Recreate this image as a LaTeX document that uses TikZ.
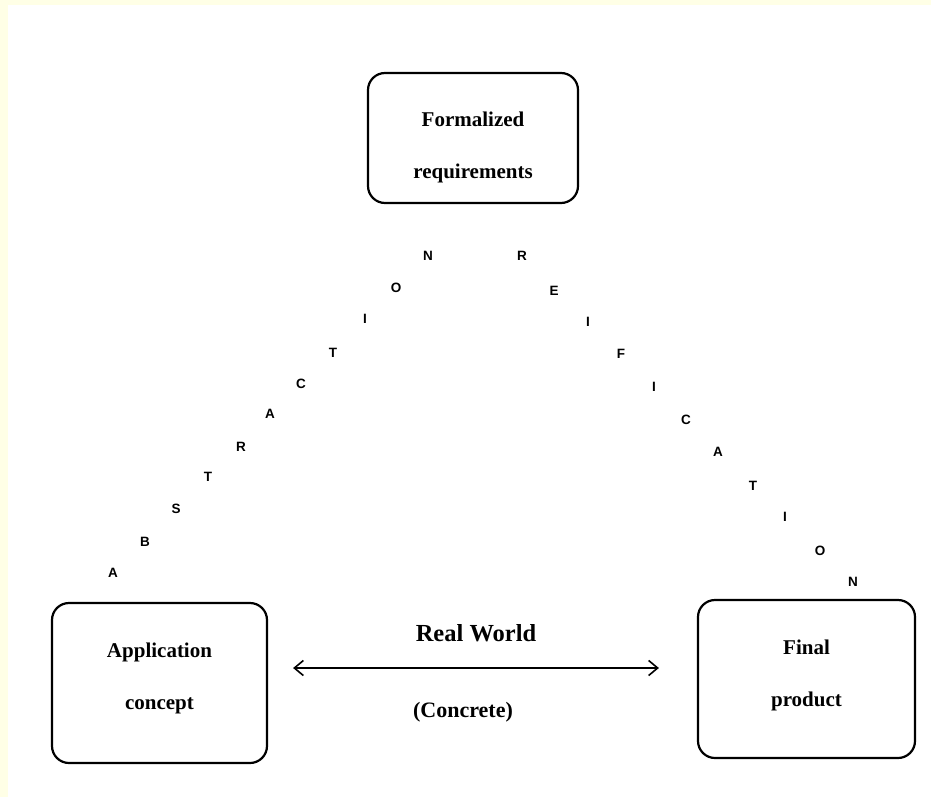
\documentclass[tikz,border=0pt]{standalone}
\usepackage{fontspec}
\setmainfont{Liberation Serif}
\newfontfamily\lettfont{Liberation Sans}
\usetikzlibrary{arrows.meta}
\definecolor{cream}{HTML}{FFFFE6}
\begin{document}
\begin{tikzpicture}[x=1pt,y=-1pt,
  box/.style={draw, line width=2.2pt, rounded corners=17pt, inner sep=0pt},
  boxtext/.style={align=center, font=\fontsize{21}{52}\selectfont\bfseries, inner sep=0pt},
  lbl/.style={font=\fontsize{22}{26}\selectfont\bfseries, inner sep=0pt},
  letter/.style={font=\lettfont\bfseries\fontsize{13.5}{14}\selectfont, inner sep=0pt},
  conn/.style={line width=1.8pt, {Straight Barb[length=9pt,width=15pt,line width=1.6pt]}-{Straight Barb[length=9pt,width=15pt,line width=1.6pt]}}]
\useasboundingbox (0,0) rectangle (931,797);
\fill[white] (0,0) rectangle (931,797);
\fill[cream] (0,0) rectangle (8,797);
\fill[cream] (0,0) rectangle (931,5);

\node[box, minimum width=210pt, minimum height=130pt] (form) at (473,138) {};
\node[boxtext] (formt) at ([yshift=-9pt]form.center) {Formalized\\requirements};
\node[box, minimum width=215pt, minimum height=160pt] (appl) at (159.5,683) {};
\node[boxtext] (applt) at ([yshift=5pt]appl.center) {Application\\concept};
\node[box, minimum width=217pt, minimum height=158pt] (final) at (806.5,679) {};
\node[boxtext] (finalt) at ([yshift=4pt]final.center) {Final\\product};

\coordinate (ly) at (0,668);
\draw[conn, shorten <=25pt, shorten >=38pt] (appl.east |- ly) -- (final.west |- ly);
\node[lbl, font=\fontsize{24.5}{28}\selectfont\bfseries] (real) at (476,633) {Real World};
\node[lbl] (conc) at (463,712) {(Concrete)};

\foreach \t/\x/\y [count=\i] in {A/113/573, B/145/542, S/176/509, T/208/477, R/241/447, A/270/414, C/301/384, T/333/353, I/365/319, O/396/288, N/428/256}
  \node[letter] (abs\i) at (\x,\y) {\t};
\foreach \t/\x/\y [count=\i] in {R/522/256, E/554/291, I/588/322, F/621/354, I/654/387, C/686/420, A/718/452, T/753/486, I/785/517, O/820/551, N/853/582}
  \node[letter] (rei\i) at (\x,\y) {\t};
\end{tikzpicture}
\end{document}
